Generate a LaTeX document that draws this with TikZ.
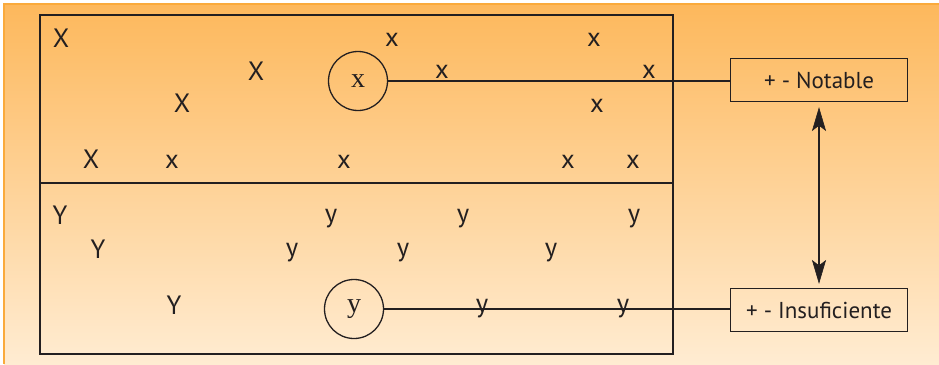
\documentclass[tikz,border=0pt]{standalone}
\usepackage{fontspec}
\newfontfamily\letterfont{PT Sans}
\newfontfamily\serifletter{Liberation Serif}
\definecolor{bgtop}{RGB}{253,184,92}
\definecolor{bgbot}{RGB}{255,236,210}
\definecolor{bgedge}{RGB}{250,170,60}
\definecolor{ink}{RGB}{35,31,32}
\tikzset{
  lt/.style={inner sep=0pt, text=ink, font=\letterfont\fontsize{26.5}{26.5}\selectfont},
  ct/.style={circle, draw=ink, line width=1.3pt, minimum size=59pt, inner sep=0pt, text=ink,
             font=\serifletter\fontsize{28}{28}\selectfont},
  labelbox/.style={draw=ink, line width=1.5pt, minimum width=177pt, minimum height=43pt, inner sep=0pt,
             text=ink, font=\letterfont\fontsize{23}{23}\selectfont},
  conn/.style={draw=ink, line width=1.3pt},
  headfill/.style={fill=ink, draw=ink, line width=0.6pt, line join=miter},
}
\begin{document}
\begin{tikzpicture}[x=1pt,y=-1pt]
\useasboundingbox (0,0) rectangle (939,364);
\fill[white] (0,0) rectangle (939,364);
\shade[top color=bgtop, bottom color=bgbot] (4,4) rectangle (939,364);
\draw[bgedge, line width=1.2pt] (4,364) -- (4,4) -- (939,4);
% main box
\draw[conn, line width=1.5pt] (40,15) rectangle (673,354);
\draw[conn] (40,183) -- (673,183);
% letters X
\node[lt] (X1) at (61,38) {X};
\node[lt] (X2) at (256,71) {X};
\node[lt] (X3) at (182,103) {X};
\node[lt] (X4) at (91,159) {X};
\node[lt] (x1) at (392,40) {x};
\node[lt] (x2) at (442,72) {x};
\node[lt] (x3) at (594,40) {x};
\node[lt] (x4) at (649,72) {x};
\node[lt] (x5) at (597,106) {x};
\node[lt] (x6) at (172,162) {x};
\node[lt] (x7) at (344,162) {x};
\node[lt] (x8) at (568,162) {x};
\node[lt] (x9) at (633,162) {x};
% letters Y
\node[lt] (Y1) at (60,215) {Y};
\node[lt] (Y2) at (98,249) {Y};
\node[lt] (Y3) at (174,305) {Y};
\node[lt] (y1) at (331,219) {y};
\node[lt] (y2) at (463,219) {y};
\node[lt] (y3) at (634,219) {y};
\node[lt] (y4) at (292,253) {y};
\node[lt] (y5) at (403,253) {y};
\node[lt] (y6) at (551,253) {y};
\node[lt] (y7) at (482,309) {y};
\node[lt] (y8) at (623,309) {y};
% circles
\node[ct] (cx) at (358,81) {x};
\node[ct] (cy) at (354,309) {y};
% boxes
\node[labelbox] (not) at (819,80) {+ - Notable};
\node[labelbox] (ins) at (819,310) {+ - Insuficiente};
% connectors
\draw[conn] (cx.east) -- (cx.east -| not.west);
\draw[conn] (cy.east) -- (cy.east -| ins.west);
\coordinate (ta) at ([yshift=-6pt]not.south);
\coordinate (tb) at ([yshift=5pt]ins.north);
\draw[conn] ([yshift=-18pt]ta) -- ([yshift=18pt]tb);
\fill[headfill] (ta) -- ++(6.5,22) -- ++(-6.5,-5) -- ++(-6.5,5) -- cycle;
\fill[headfill] (tb) -- ++(6.5,-22) -- ++(-6.5,5) -- ++(-6.5,-5) -- cycle;
\end{tikzpicture}
\end{document}
